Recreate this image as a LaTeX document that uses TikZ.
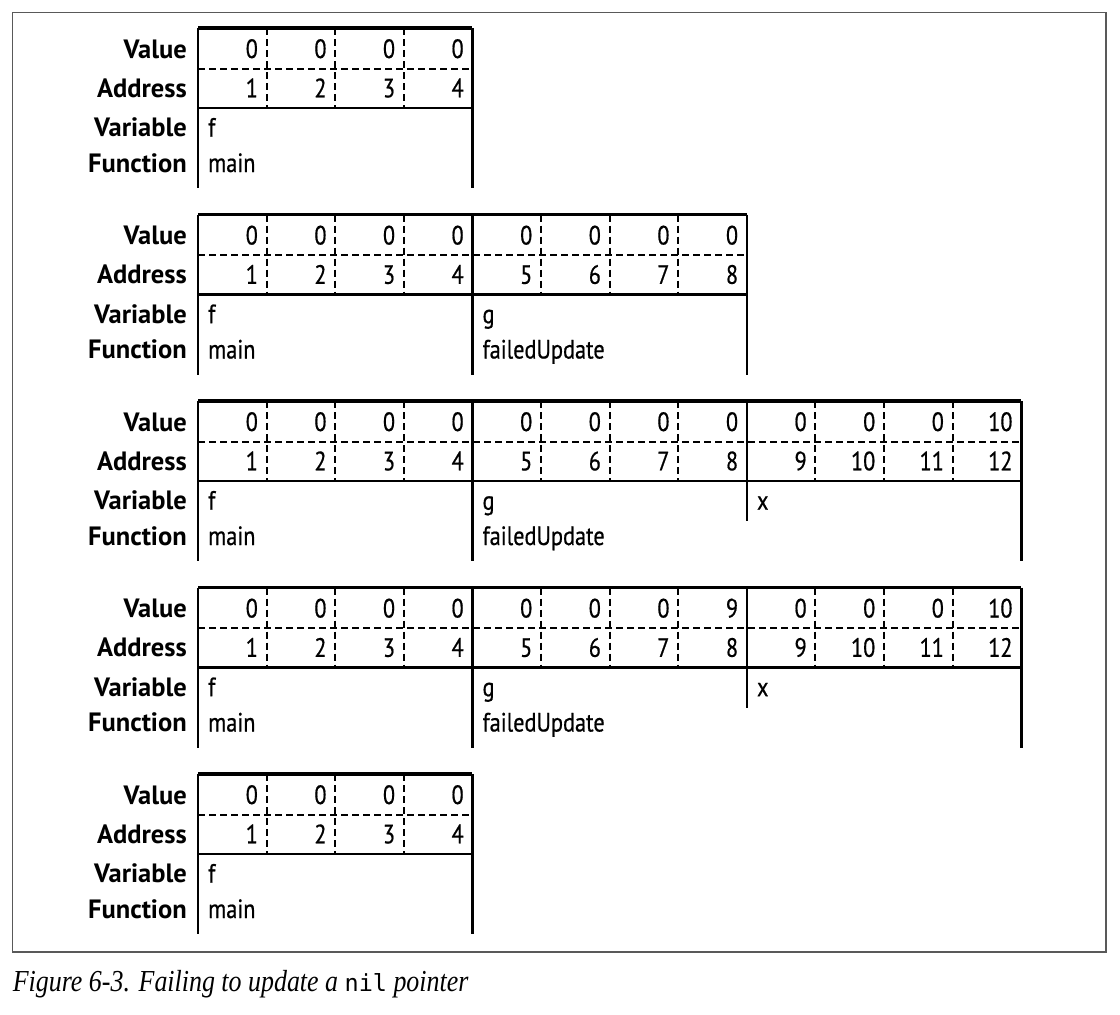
\documentclass[tikz,border=0pt]{standalone}
\usepackage{fontspec}
\setmainfont{PT Sans}
\newfontfamily\narrowfont{PT Sans}[FakeStretch=0.84,FakeBold=0.6]
\newfontfamily\capfont{Liberation Serif}[FakeStretch=0.85]
\newfontfamily\codefont{DejaVu Sans Mono}
\newcommand\cellfont{\narrowfont\fontsize{26.5}{30}\selectfont}
\newcommand\labfont{\fontsize{26.5}{30}\selectfont\bfseries}
\newcommand\memgrid[4]{%
  \node[rowlab] (#1-val) at (187,#2+30) {Value};
  \node[rowlab] (#1-adr) at (187,#2+69.3) {Address};
  \node[rowlab] (#1-var) at (187,#2+108.7) {Variable};
  \node[rowlab] (#1-fun) at (187,#2+144) {Function};
  \draw[toprule] (198,#2) -- ({198+#3*68.6},#2);
  \draw[dashrule] (198,#2+40.5) -- ({198+#3*68.6},#2+40.5);
  \draw[rule] (198,#2+80) -- ({198+#3*68.6},#2+80);
  \foreach \v [count=\k] in {#4}{
    \node[numcell] (#1-v\k) at ({198+\k*68.6-8.5},#2+30) {\v};
    \node[numcell] (#1-a\k) at ({198+\k*68.6-8.5},#2+69.3) {\k};
    \pgfmathtruncatemacro\colmod{mod(\k,4)}
    \ifnum\colmod>0 \draw[dashrule] ({198+\k*68.6},#2) -- ({198+\k*68.6},#2+80);\fi
  }%
}
\newcommand\memwall[3]{\draw[rule] ({198+#2*68.6},#1) -- ({198+#2*68.6},#1+#3);}

\begin{document}
\begin{tikzpicture}[x=1pt,y=-1pt,
  every node/.style={inner sep=0pt,font=\cellfont},
  toprule/.style={line width=3.5pt},
  rule/.style={line width=2.6pt},
  dashrule/.style={line width=2pt,dash pattern=on 7pt off 4pt},
  rowlab/.style={anchor=base east,font=\labfont},
  numcell/.style={anchor=base east},
  varcell/.style={anchor=base west}]
\useasboundingbox (0,0) rectangle (1120,1015);
\draw[black!65,line width=1.2pt] (12.5,12.5) rectangle (1106,952);

\memgrid{m1}{28}{4}{0,0,0,0}
\memwall{28}{0}{160}\memwall{28}{4}{160}
\node[varcell] (m1-f) at (208,136.7) {f};
\node[varcell] (m1-main) at (208,172) {main};

\memgrid{m2}{214.5}{8}{0,0,0,0,0,0,0,0}
\memwall{214.5}{0}{160}\memwall{214.5}{4}{160}\memwall{214.5}{8}{160}
\node[varcell] (m2-f) at (208,323.2) {f};
\node[varcell] (m2-main) at (208,358.5) {main};
\node[varcell] (m2-g) at (482.4,323.2) {g};
\node[varcell] (m2-upd) at (482.4,358.5) {failedUpdate};

\memgrid{m3}{401}{12}{0,0,0,0,0,0,0,0,0,0,0,10}
\memwall{401}{0}{160}\memwall{401}{4}{160}\memwall{401}{8}{120}\memwall{401}{12}{160}
\node[varcell] (m3-f) at (208,509.7) {f};
\node[varcell] (m3-main) at (208,545) {main};
\node[varcell] (m3-g) at (482.4,509.7) {g};
\node[varcell] (m3-upd) at (482.4,545) {failedUpdate};
\node[varcell] (m3-x) at (756.8,509.7) {x};

\memgrid{m4}{587.5}{12}{0,0,0,0,0,0,0,9,0,0,0,10}
\memwall{587.5}{0}{160}\memwall{587.5}{4}{160}\memwall{587.5}{8}{120}\memwall{587.5}{12}{160}
\node[varcell] (m4-f) at (208,696.2) {f};
\node[varcell] (m4-main) at (208,731.5) {main};
\node[varcell] (m4-g) at (482.4,696.2) {g};
\node[varcell] (m4-upd) at (482.4,731.5) {failedUpdate};
\node[varcell] (m4-x) at (756.8,696.2) {x};

\memgrid{m5}{774}{4}{0,0,0,0}
\memwall{774}{0}{160}\memwall{774}{4}{160}
\node[varcell] (m5-f) at (208,882.7) {f};
\node[varcell] (m5-main) at (208,918) {main};

\node[anchor=base west,font=\capfont\itshape\fontsize{30.5}{34}\selectfont] (caption) at (12.7,991)
  {Figure 6-3. Failing to update a {\codefont\upshape\fontsize{23.5}{34}\selectfont nil} pointer};
\end{tikzpicture}
\end{document}
